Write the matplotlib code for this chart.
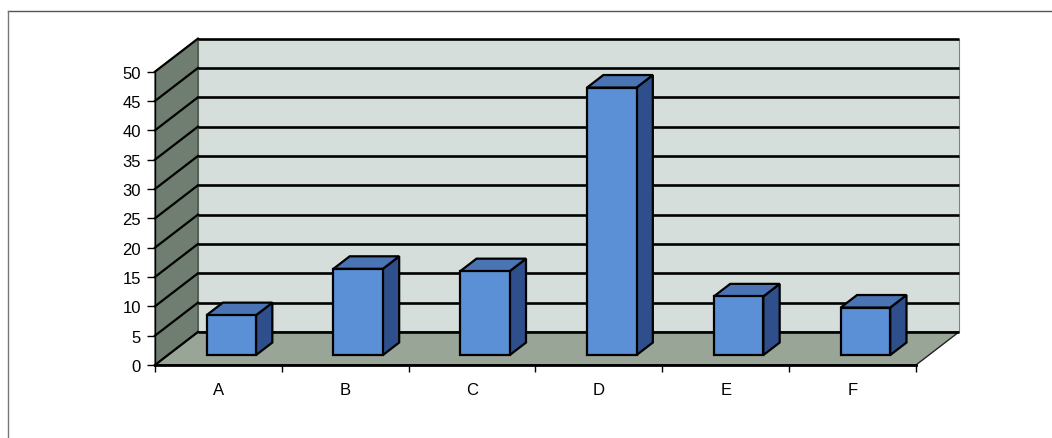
import matplotlib
matplotlib.use("Agg")
import matplotlib.pyplot as plt
from matplotlib.patches import Polygon
from matplotlib.lines import Line2D

categories = ['A', 'B', 'C', 'D', 'E', 'F']
values = [6.8, 14.7, 14.3, 45.6, 10.0, 8.1]
yticks = list(range(0, 51, 5))

# oblique depth offset (category units, value units)
DX, DY = 0.339, 5.63
YMAX = 50
n = len(categories)

plt.rcParams['font.family'] = ['Liberation Sans', 'DejaVu Sans']

fig = plt.figure(figsize=(10.52, 4.39), dpi=100)
ax = fig.add_axes([0.1473, 0.1663, 0.7716, 0.7617])
ax.set_xlim(0, 6.4)
ax.set_ylim(0, 57)
ax.patch.set_visible(False)


def poly(pts, fc, ec='black', lw=1.2, z=1):
    ax.add_patch(Polygon(pts, closed=True, facecolor=fc, edgecolor=ec,
                         linewidth=lw, zorder=z, clip_on=False))


# walls and floor
poly([(DX, DY), (n + DX, DY), (n + DX, YMAX + DY), (DX, YMAX + DY)],
     '#d6dedb', ec='#7a8580', lw=0.8, z=1)
poly([(0, 0), (DX, DY), (DX, YMAX + DY), (0, YMAX)], '#6f7e70', ec='#3a443b', lw=0.8, z=1)
poly([(0, 0), (n, 0), (n + DX, DY), (DX, DY)], '#99a697', ec='#222222', lw=1.0, z=1)

# gridlines on the back wall and side wall
for v in yticks:
    ax.plot([DX, n + DX], [v + DY, v + DY], color='black', lw=1.9, zorder=2,
            clip_on=False, solid_capstyle='butt')
    ax.plot([0, DX], [v, v + DY], color='black', lw=1.6, zorder=2, clip_on=False)

# bars
w = 0.39
f0, f1 = 0.30, 0.68
for i, v in enumerate(values):
    xl = i + 0.5 - w / 2
    xr = i + 0.5 + w / 2
    x0, y0 = f0 * DX, f0 * DY
    x1, y1 = f1 * DX, f1 * DY
    # side
    poly([(xr + x0, y0), (xr + x1, y1), (xr + x1, v + y1), (xr + x0, v + y0)],
         '#2f4f8c', lw=1.6, z=5)
    # top
    poly([(xl + x0, v + y0), (xr + x0, v + y0), (xr + x1, v + y1), (xl + x1, v + y1)],
         '#4a74b4', lw=1.6, z=5)
    # front
    poly([(xl + x0, y0), (xr + x0, y0), (xr + x0, v + y0), (xl + x0, v + y0)],
         '#5b8fd6', lw=1.6, z=6)

# axes
for s in ['top', 'right']:
    ax.spines[s].set_visible(False)
ax.spines['left'].set_bounds(0, YMAX)
ax.spines['left'].set_linewidth(1.0)
ax.spines['bottom'].set_bounds(0, n)
ax.spines['bottom'].set_linewidth(2.0)
ax.spines['left'].set_zorder(3)
ax.spines['bottom'].set_zorder(3)

ax.set_yticks(yticks)
ax.set_yticklabels([str(t) for t in yticks], fontsize=12)
ax.tick_params(axis='y', length=6, width=1, pad=4)

ax.set_xticks(range(n + 1))
ax.set_xticklabels([])
ax.set_xticks([i + 0.5 for i in range(n)], minor=True)
ax.set_xticklabels(categories, minor=True, fontsize=12)
ax.tick_params(axis='x', which='major', length=5, width=1)
ax.tick_params(axis='x', which='minor', length=0, pad=12)

# outer frame
fig.add_artist(Line2D([8 / 1052, 1], [1 - 12 / 439, 1 - 12 / 439], color='#555555', lw=1.0))
fig.add_artist(Line2D([8 / 1052, 8 / 1052], [0, 1 - 12 / 439], color='#777777', lw=1.0))

fig.savefig('out.png', dpi=100)
